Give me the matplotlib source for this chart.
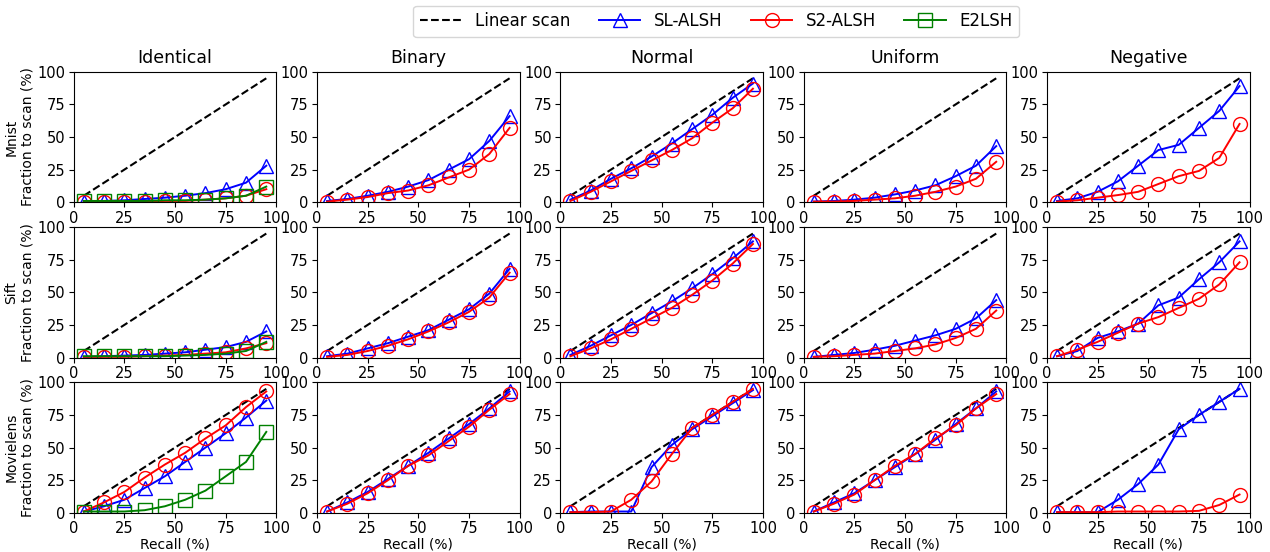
import matplotlib.pyplot as plt

recall = [5, 15, 25, 35, 45, 55, 65, 75, 85, 95]
datasets = ["Mnist", "Sift", "Movielens"]
settings = ["Identical", "Binary", "Normal", "Uniform", "Negative"]

# fraction of items scanned (%) per dataset, per setting
sl_alsh = {
    "Mnist": {
        "Identical": [0.5, 1, 1.5, 2.5, 3.5, 5, 7, 10, 15, 28],
        "Binary": [1, 2.5, 5, 8, 12, 17, 25, 33, 47, 66],
        "Normal": [2, 9, 18, 26, 35, 45, 56, 67, 80, 91],
        "Uniform": [0.5, 1, 2, 3.5, 6, 9, 13, 20, 28, 43],
        "Negative": [1, 3, 8, 16, 28, 40, 44, 57, 70, 89],
    },
    "Sift": {
        "Identical": [0.5, 1, 1.5, 2, 3, 4, 6, 8, 12, 20],
        "Binary": [1, 3, 7, 11, 16, 21, 29, 37, 49, 68],
        "Normal": [2, 9, 17, 25, 34, 43, 53, 64, 76, 89],
        "Uniform": [0.5, 2, 3.5, 6, 9, 13, 17, 22, 30, 44],
        "Negative": [1, 5, 15, 20, 26, 40, 46, 60, 73, 89],
    },
    "Movielens": {
        "Identical": [1, 5, 10, 19, 28, 39, 50, 61, 73, 86],
        "Binary": [1, 8, 16, 26, 36, 46, 57, 68, 80, 93],
        "Normal": [0.5, 1, 1, 1, 35, 52, 64, 74, 84, 94],
        "Uniform": [1, 8, 15, 25, 35, 45, 56, 68, 80, 93],
        "Negative": [0.5, 0.5, 0.5, 10, 22, 37, 64, 75, 85, 95],
    },
}

s2_alsh = {
    "Mnist": {
        "Identical": [0.5, 0.5, 0.5, 0.5, 1, 1, 2, 3, 5, 10],
        "Binary": [0.5, 2, 4, 7, 9, 13, 19, 25, 37, 57],
        "Normal": [1, 8, 16, 24, 32, 40, 49, 61, 72, 87],
        "Uniform": [0.5, 0.5, 1, 2, 3, 5, 8, 12, 18, 31],
        "Negative": [0.5, 1.5, 3.5, 5.5, 8, 14, 20, 24, 34, 60],
    },
    "Sift": {
        "Identical": [0.5, 0.5, 0.5, 1, 1.5, 2, 3, 4, 7, 11],
        "Binary": [0.5, 2, 5, 9, 14, 20, 27, 35, 46, 65],
        "Normal": [1, 7, 14, 22, 30, 38, 48, 59, 72, 87],
        "Uniform": [0.5, 1, 2, 3, 5, 7, 10, 15, 22, 36],
        "Negative": [1, 6, 12, 19, 26, 31, 38, 45, 56, 73],
    },
    "Movielens": {
        "Identical": [1, 8, 16, 27, 37, 46, 57, 67, 81, 93],
        "Binary": [1, 7, 15, 25, 36, 44, 55, 66, 79, 91],
        "Normal": [0.5, 0.5, 1, 10, 24, 45, 65, 75, 85, 95],
        "Uniform": [1, 7, 14, 25, 36, 45, 57, 67, 80, 91],
        "Negative": [0.5, 0.5, 0.5, 1, 1, 1, 1, 1.5, 6, 14],
    },
}

# E2LSH only applies to the identical-norm setting
e2lsh = {
    "Mnist": [1, 1, 1, 1, 1.5, 1.5, 2, 3, 5, 12],
    "Sift": [1, 1, 1, 1, 1, 1.5, 2, 3, 5, 12],
    "Movielens": [1, 1, 1, 2, 5, 10, 17, 28, 39, 62],
}

fig, axes = plt.subplots(3, 5, figsize=(12.7, 5.52), dpi=100)
fig.subplots_adjust(left=0.058, right=0.984, top=0.87, bottom=0.071,
                    wspace=0.2, hspace=0.19)

mk = dict(markersize=10, markerfacecolor="none", linewidth=1.4)

for i, ds in enumerate(datasets):
    for j, st in enumerate(settings):
        ax = axes[i, j]
        ax.plot([recall[0], recall[-1]], [recall[0], recall[-1]], "k--",
                linewidth=1.5, label="Linear scan")
        ax.plot(recall, sl_alsh[ds][st], color="blue", marker="^",
                markeredgecolor="blue", label="SL-ALSH", **mk)
        ax.plot(recall, s2_alsh[ds][st], color="red", marker="o",
                markeredgecolor="red", label="S2-ALSH", **mk)
        if st == "Identical":
            ax.plot(recall, e2lsh[ds], color="green", marker="s",
                    markeredgecolor="green", label="E2LSH", **mk)
        ax.set_xlim(0, 100)
        ax.set_ylim(0, 100)
        ax.set_xticks([0, 25, 50, 75, 100])
        ax.set_yticks([0, 25, 50, 75, 100])
        ax.tick_params(labelsize=10.5, pad=2.5)
        if i == 0:
            ax.set_title(st, fontsize=12.5)
        if j == 0:
            ax.set_ylabel(ds + "\nFraction to scan (%)", fontsize=10,
                          labelpad=2)
        if i == 2:
            ax.set_xlabel("Recall (%)", fontsize=10, labelpad=1)

handles, labels = axes[0, 0].get_legend_handles_labels()
fig.legend(handles, labels, loc="upper center", ncol=4, fontsize=12,
           bbox_to_anchor=(0.564, 1.005), columnspacing=1.7, handlelength=2.5)

fig.savefig("out.png")
